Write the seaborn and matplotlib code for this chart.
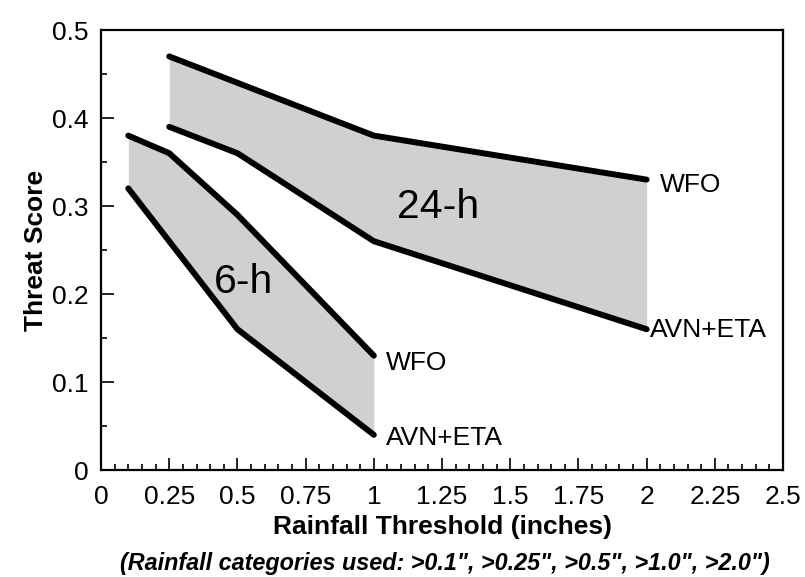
import numpy as np
import pandas as pd
import matplotlib
matplotlib.use("Agg")
import matplotlib.pyplot as plt
import seaborn as sns
from matplotlib.ticker import MultipleLocator, FixedLocator

# Data
x_6h = [0.1, 0.25, 0.5, 1.0]
wfo_6h = [0.38, 0.36, 0.29, 0.13]
avn_6h = [0.32, 0.26, 0.16, 0.04]

x_24h = [0.25, 0.5, 1.0, 2.0]
wfo_24h = [0.47, 0.44, 0.38, 0.33]
avn_24h = [0.39, 0.36, 0.26, 0.16]

x_ticks = [0, 0.25, 0.5, 0.75, 1, 1.25, 1.5, 1.75, 2, 2.25, 2.5]
x_tick_labels = ["0", "0.25", "0.5", "0.75", "1", "1.25", "1.5", "1.75", "2", "2.25", "2.5"]
y_ticks = [0, 0.1, 0.2, 0.3, 0.4, 0.5]
y_tick_labels = ["0", "0.1", "0.2", "0.3", "0.4", "0.5"]

sns.set_style("ticks")
plt.rcParams['font.family'] = ['Liberation Sans', 'DejaVu Sans']
plt.rcParams['text.color'] = 'black'
plt.rcParams['axes.labelcolor'] = 'black'
plt.rcParams['xtick.color'] = 'black'
plt.rcParams['ytick.color'] = 'black'

df = pd.concat([
    pd.DataFrame({"x": x_6h, "y": wfo_6h, "series": "6h_WFO"}),
    pd.DataFrame({"x": x_6h, "y": avn_6h, "series": "6h_AVN"}),
    pd.DataFrame({"x": x_24h, "y": wfo_24h, "series": "24h_WFO"}),
    pd.DataFrame({"x": x_24h, "y": avn_24h, "series": "24h_AVN"}),
])

fig = plt.figure(figsize=(8.05, 5.77), dpi=100)
ax = fig.add_axes([0.1255, 0.1854, 0.8472, 0.7626])

ax.fill_between(x_6h, avn_6h, wfo_6h, color="#d0d0d0", linewidth=0, zorder=1)
ax.fill_between(x_24h, avn_24h, wfo_24h, color="#d0d0d0", linewidth=0, zorder=1)

sns.lineplot(data=df, x="x", y="y", units="series", estimator=None, color="black",
             linewidth=4.3, sort=False, ax=ax, legend=False, zorder=3)
for line in ax.lines:
    line.set_solid_capstyle("round")
    line.set_solid_joinstyle("round")

ax.set_xlim(0, 2.5)
ax.set_ylim(0, 0.5)
ax.xaxis.set_major_locator(FixedLocator(x_ticks))
ax.set_xticklabels(x_tick_labels)
ax.yaxis.set_major_locator(FixedLocator(y_ticks))
ax.set_yticklabels(y_tick_labels)
ax.xaxis.set_minor_locator(MultipleLocator(0.05))
ax.yaxis.set_minor_locator(MultipleLocator(0.05))
ax.tick_params(which="both", direction="in", top=False, right=False, width=1.2, color="black")
ax.tick_params(which="major", length=9, labelsize=19, pad=11)
ax.tick_params(which="minor", length=4.5)
ax.tick_params(axis="y", which="major", pad=9)
for s in ax.spines.values():
    s.set_visible(True)
    s.set_linewidth(1.6)
    s.set_color("black")

ax.set_xlabel("Rainfall Threshold (inches)", fontsize=19, fontweight="bold", labelpad=4)
ax.set_ylabel("Threat Score", fontsize=19, fontweight="bold", labelpad=3)

ax.text(1.234, 0.299, "24-h", fontsize=29.5, ha="center", va="center", zorder=4)
ax.text(0.524, 0.214, "6-h", fontsize=29.5, ha="center", va="center", zorder=4)
ax.text(2.05, 0.324, "WFO", fontsize=19, ha="left", va="center")
ax.text(2.012, 0.159, "AVN+ETA", fontsize=19, ha="left", va="center")
ax.text(1.044, 0.122, "WFO", fontsize=19, ha="left", va="center")
ax.text(1.044, 0.036, "AVN+ETA", fontsize=19, ha="left", va="center")

fig.text(0.553, 0.024, "(Rainfall categories used: >0.1\", >0.25\", >0.5\", >1.0\", >2.0\")",
         fontsize=16.8, fontweight="bold", fontstyle="italic", ha="center", va="center")

fig.savefig("out.png", dpi=100)
